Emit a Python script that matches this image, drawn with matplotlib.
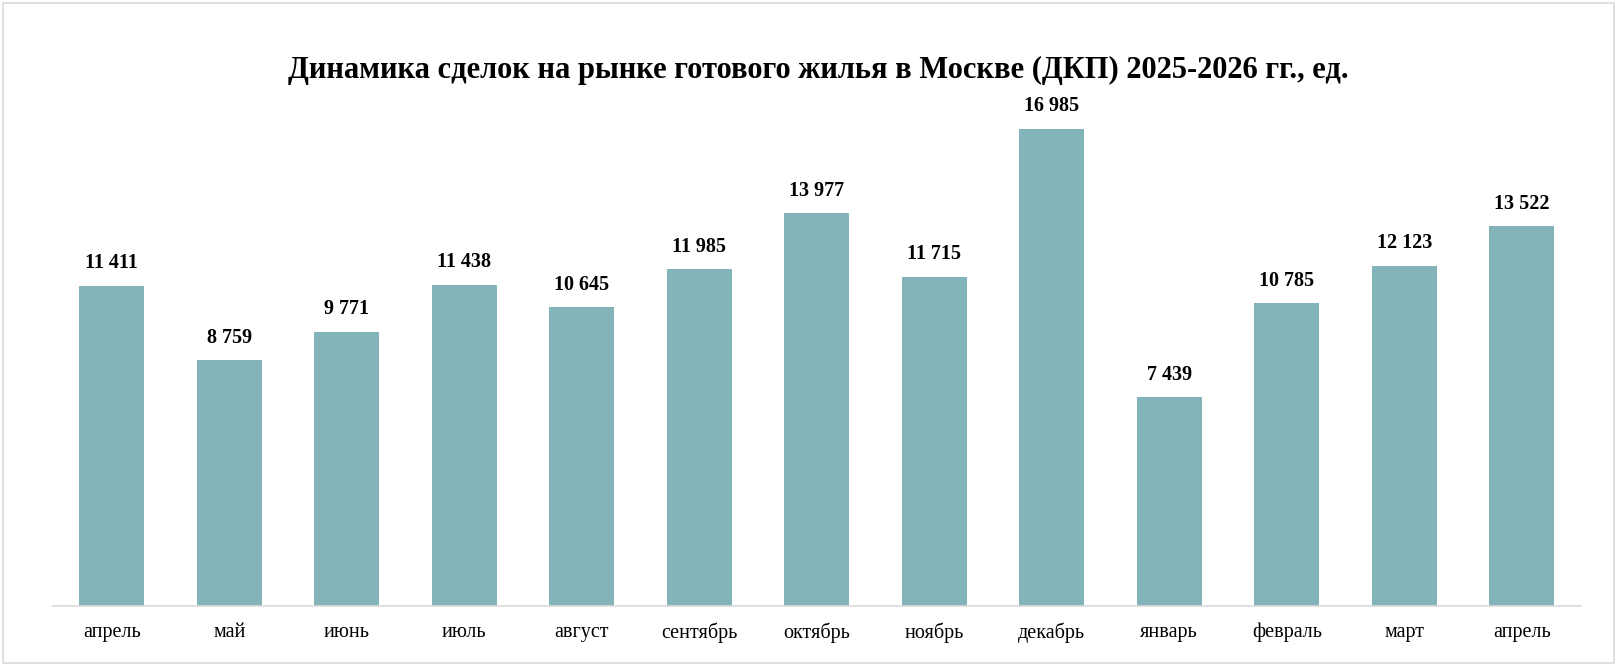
import matplotlib
matplotlib.use("Agg")
import matplotlib.pyplot as plt
from matplotlib.patches import Rectangle

months = ["апрель", "май", "июнь", "июль", "август", "сентябрь", "октябрь",
          "ноябрь", "декабрь", "январь", "февраль", "март", "апрель"]
deals = [11411, 8759, 9771, 11438, 10645, 11985, 13977,
         11715, 16985, 7439, 10785, 12123, 13522]

title = "Динамика сделок на рынке готового жилья в Москве (ДКП) 2025-2026 гг., ед."

plt.rcParams['font.family'] = ['Liberation Serif', 'DejaVu Serif']

fig = plt.figure(figsize=(16.19, 6.65), dpi=100)
ax = fig.add_axes([53 / 1619, 59 / 665, 1527.5 / 1619, 533.6 / 665])

x = list(range(len(deals)))
bars = ax.bar(x, deals, width=0.55, color="#82B4BA", zorder=2)

# value labels above each bar
for b, v in zip(bars, deals):
    label = "{:,}".format(v).replace(",", " ")
    ax.annotate(label, (b.get_x() + b.get_width() / 2, v),
                xytext=(0, 9), textcoords="offset points",
                ha="center", va="bottom", fontsize=14.5, fontweight="bold")

ax.set_xlim(-0.5, len(deals) - 0.5)
ax.set_ylim(0, 19000)
ax.set_xticks(x)
ax.set_xticklabels(months, fontsize=14.5)
ax.tick_params(axis="x", length=0, pad=12)
ax.set_yticks([])
for s in ["top", "right", "left"]:
    ax.spines[s].set_visible(False)
ax.spines["bottom"].set_color("#D9D9D9")
ax.spines["bottom"].set_linewidth(1.2)

fig.text(818 / 1619, 1 - 70 / 665, title, ha="center", va="center",
         fontsize=22, fontweight="bold")

# light border around the chart area
fig.patches.append(Rectangle((0.002, 0.003), 0.995, 0.993, transform=fig.transFigure,
                             fill=False, edgecolor="#D9D9D9", linewidth=1.2))

fig.savefig("out.png", dpi=100)
